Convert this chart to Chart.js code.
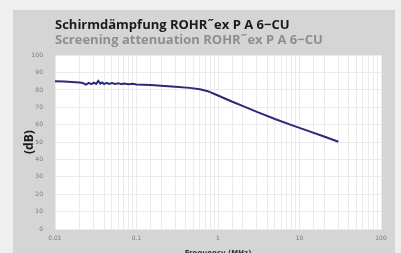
<!DOCTYPE html>
<html>
<head>
<meta charset="utf-8">
<script src="https://cdn.jsdelivr.net/npm/chart.js@4/dist/chart.umd.min.js"></script>
<style>
  html, body { margin: 0; padding: 0; width: 401px; height: 253px; overflow: hidden; background: #efefef; }
  #panel { position: absolute; left: 13px; top: 10px; width: 382px; height: 250px; background: #d5d5d5; }
  #panel canvas { display: block; }
</style>
</head>
<body>
<div id="panel"><canvas id="myChart" width="382" height="250"></canvas></div>
<script>
// frequency (MHz) and screening attenuation (dB)
const freqs = [0.01, 0.013, 0.016, 0.02, 0.022, 0.024, 0.026, 0.028, 0.030, 0.032, 0.034, 0.036,
  0.038, 0.040, 0.043, 0.046, 0.05, 0.055, 0.06, 0.065, 0.07, 0.08, 0.09, 0.1, 0.15, 0.2, 0.3,
  0.45, 0.6, 0.75, 1, 1.5, 2, 3, 5, 8, 12, 20, 30];
const attenuation = [85, 84.8, 84.6, 84.3, 84.0, 83.1, 84.1, 83.4, 84.2, 83.5, 85.2, 83.6,
  84.3, 83.4, 84.1, 83.5, 84.0, 83.4, 83.9, 83.3, 83.7, 83.3, 83.5, 83.2, 82.8, 82.4, 81.9,
  81.2, 80.4, 79.3, 76.8, 73.2, 70.8, 67.4, 63.3, 59.8, 56.9, 53.2, 50.2];
const xTickLabels = [0.01, 0.1, 1, 10, 100];
const titleText = "Schirmdämpfung ROHR˝ex P A 6−CU";
const subtitleText = "Screening attenuation ROHR˝ex P A 6−CU";

// white plot background
const plotBg = {
  id: "plotBg",
  beforeDraw(chart) {
    const { ctx, chartArea: a } = chart;
    ctx.save();
    ctx.fillStyle = "#ffffff";
    ctx.fillRect(a.left, a.top, a.right - a.left, a.bottom - a.top);
    ctx.restore();
  }
};

const points = freqs.map((f, i) => ({ x: f, y: attenuation[i] }));

new Chart(document.getElementById("myChart"), {
  type: "line",
  data: {
    datasets: [{
      data: points,
      borderColor: "#2b2b78",
      borderWidth: 2,
      pointRadius: 0,
      tension: 0
    }]
  },
  options: {
    responsive: false,
    animation: false,
    layout: { padding: { left: 0, right: 14, top: 0, bottom: 0 } },
    plugins: {
      legend: { display: false },
      tooltip: { enabled: false },
      title: {
        display: true,
        text: titleText,
        align: "start",
        fullSize: false,
        color: "#1a1a1a",
        font: { family: "Open Sans", size: 13, weight: "bold" },
        padding: { top: 7, bottom: 0 }
      },
      subtitle: {
        display: true,
        text: subtitleText,
        align: "start",
        fullSize: false,
        color: "#8e8e8e",
        font: { family: "Open Sans", size: 13, weight: "bold" },
        padding: { top: 0, bottom: 7 }
      }
    },
    scales: {
      x: {
        type: "logarithmic",
        min: 0.01,
        max: 100,
        afterFit(scale) { scale.height = 31; },
        border: { display: false },
        grid: { color: "#ebebeb", drawTicks: false },
        ticks: {
          autoSkip: false,
          maxRotation: 0,
          padding: 6,
          color: "#7a7a7a",
          font: { family: "DejaVu Sans", size: 6 },
          callback: v => xTickLabels.includes(Number(v.toPrecision(3))) ? String(Number(v.toPrecision(3))) : ""
        },
        title: {
          display: true,
          text: "Frequency (MHz)",
          color: "#333333",
          font: { family: "DejaVu Sans", size: 7, weight: "bold" },
          padding: { top: 0, bottom: 3 }
        }
      },
      y: {
        min: 0,
        max: 100,
        afterFit(scale) { scale.width = 42; },
        border: { display: false },
        grid: { color: "#ebebeb", drawTicks: false },
        ticks: {
          stepSize: 10,
          padding: 12,
          color: "#7a7a7a",
          font: { family: "DejaVu Sans", size: 6 }
        },
        title: {
          display: true,
          text: "(dB)",
          color: "#1a1a1a",
          font: { family: "Open Sans", size: 12, weight: "bold" },
          padding: { top: 9, bottom: 0 }
        }
      }
    }
  },
  plugins: [plotBg]
});
</script>
</body>
</html>
